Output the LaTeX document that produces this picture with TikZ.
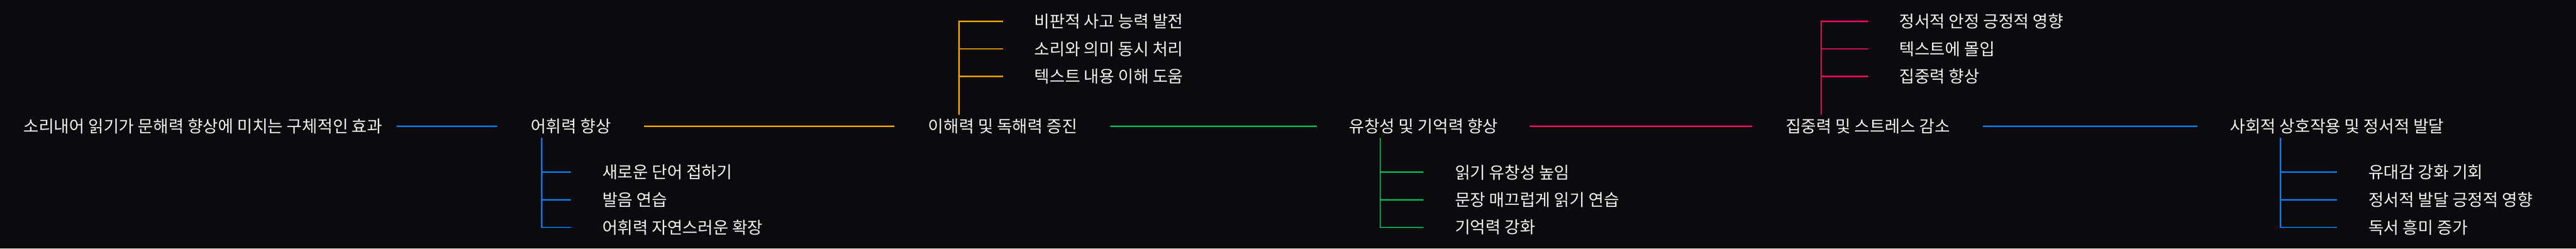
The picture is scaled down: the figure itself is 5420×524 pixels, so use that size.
\documentclass[tikz,border=0pt]{standalone}
\usepackage{fontspec}
\newfontfamily\krfont{Noto Sans CJK KR}
\usepackage{tikz}
\usetikzlibrary{positioning}
\definecolor{bgcol}{HTML}{0B0B0E}
\definecolor{txtcol}{HTML}{F2F2F2}
\definecolor{vocabblue}{HTML}{0A78F0}
\definecolor{compgold}{HTML}{F0A000}
\definecolor{flugreen}{HTML}{00B256}
\definecolor{concred}{HTML}{FF0A62}
\tikzset{
	topic/.style={text=txtcol, inner sep=0pt, font=\krfont\fontsize{35}{42}\selectfont},
	link/.style={line width=3pt},
}

\begin{document}
\begin{tikzpicture}[x=1pt,y=-1pt]
		\fill[bgcol] (0,0) rectangle (5420,524);
		\useasboundingbox (0,0) rectangle (5420,524);
		
		% main row
		\node[topic] (root) at (427,266) {소리내어 읽기가 문해력 향상에 미치는 구체적인 효과};
		\node[topic] (vocab) at (1201,266) {어휘력 향상};
		\node[topic] (comp) at (2110,266) {이해력 및 독해력 증진};
		\node[topic] (flu) at (2995,266) {유창성 및 기억력 향상};
		\node[topic] (conc) at (3930,266) {집중력 및 스트레스 감소};
		\node[topic] (soc) at (4917,266) {사회적 상호작용 및 정서적 발달};
		
		\draw[link, vocabblue, shorten <=30pt, shorten >=70pt] (root) -- (vocab);
		\draw[link, compgold, shorten <=69pt, shorten >=71pt] (vocab) -- (comp);
		\draw[link, flugreen, shorten <=69pt, shorten >=67pt] (comp) -- (flu);
		\draw[link, concred, shorten <=67pt, shorten >=70pt] (flu) -- (conc);
		\draw[link, vocabblue, shorten <=69pt, shorten >=69pt] (conc) -- (soc);
		
		% vocab branch (down)
		\node[topic, anchor=west] (vocab1) at (1267,363) {새로운 단어 접하기};
		\node[topic, anchor=west] (vocab2) at (1267,421) {발음 연습};
		\node[topic, anchor=west] (vocab3) at (1267,479) {어휘력 자연스러운 확장};
		\coordinate (vocabfork) at (1140,290);
		\draw[link, vocabblue, shorten >=66pt] (vocabfork) |- (vocab1.west);
		\draw[link, vocabblue, shorten >=66pt] (vocabfork) |- (vocab2.west);
		\draw[link, vocabblue, shorten >=66pt] (vocabfork) |- (vocab3.west);
		
		% comp branch (up)
		\node[topic, anchor=west] (comp1) at (2176,45) {비판적 사고 능력 발전};
		\node[topic, anchor=west] (comp2) at (2176,103) {소리와 의미 동시 처리};
		\node[topic, anchor=west] (comp3) at (2176,161) {텍스트 내용 이해 도움};
		\coordinate (compfork) at (2018,242);
		\draw[link, compgold, shorten >=66pt] (compfork) |- (comp1.west);
		\draw[link, compgold, shorten >=66pt] (compfork) |- (comp2.west);
		\draw[link, compgold, shorten >=66pt] (compfork) |- (comp3.west);
		
		% flu branch (down)
		\node[topic, anchor=west] (flu1) at (3061,363) {읽기 유창성 높임};
		\node[topic, anchor=west] (flu2) at (3061,421) {문장 매끄럽게 읽기 연습};
		\node[topic, anchor=west] (flu3) at (3061,479) {기억력 강화};
		\coordinate (flufork) at (2904,290);
		\draw[link, flugreen, shorten >=66pt] (flufork) |- (flu1.west);
		\draw[link, flugreen, shorten >=66pt] (flufork) |- (flu2.west);
		\draw[link, flugreen, shorten >=66pt] (flufork) |- (flu3.west);
		
		% conc branch (up)
		\node[topic, anchor=west] (conc1) at (3996,45) {정서적 안정 긍정적 영향};
		\node[topic, anchor=west] (conc2) at (3996,103) {텍스트에 몰입};
		\node[topic, anchor=west] (conc3) at (3996,161) {집중력 향상};
		\coordinate (concfork) at (3832,242);
		\draw[link, concred, shorten >=66pt] (concfork) |- (conc1.west);
		\draw[link, concred, shorten >=66pt] (concfork) |- (conc2.west);
		\draw[link, concred, shorten >=66pt] (concfork) |- (conc3.west);
		
		% soc branch (down)
		\node[topic, anchor=west] (soc1) at (4983,363) {유대감 강화 기회};
		\node[topic, anchor=west] (soc2) at (4983,421) {정서적 발달 긍정적 영향};
		\node[topic, anchor=west] (soc3) at (4983,479) {독서 흥미 증가};
		\coordinate (socfork) at (4798,290);
		\draw[link, vocabblue, shorten >=66pt] (socfork) |- (soc1.west);
		\draw[link, vocabblue, shorten >=66pt] (socfork) |- (soc2.west);
		\draw[link, vocabblue, shorten >=66pt] (socfork) |- (soc3.west);
	\end{tikzpicture}
\end{document}
